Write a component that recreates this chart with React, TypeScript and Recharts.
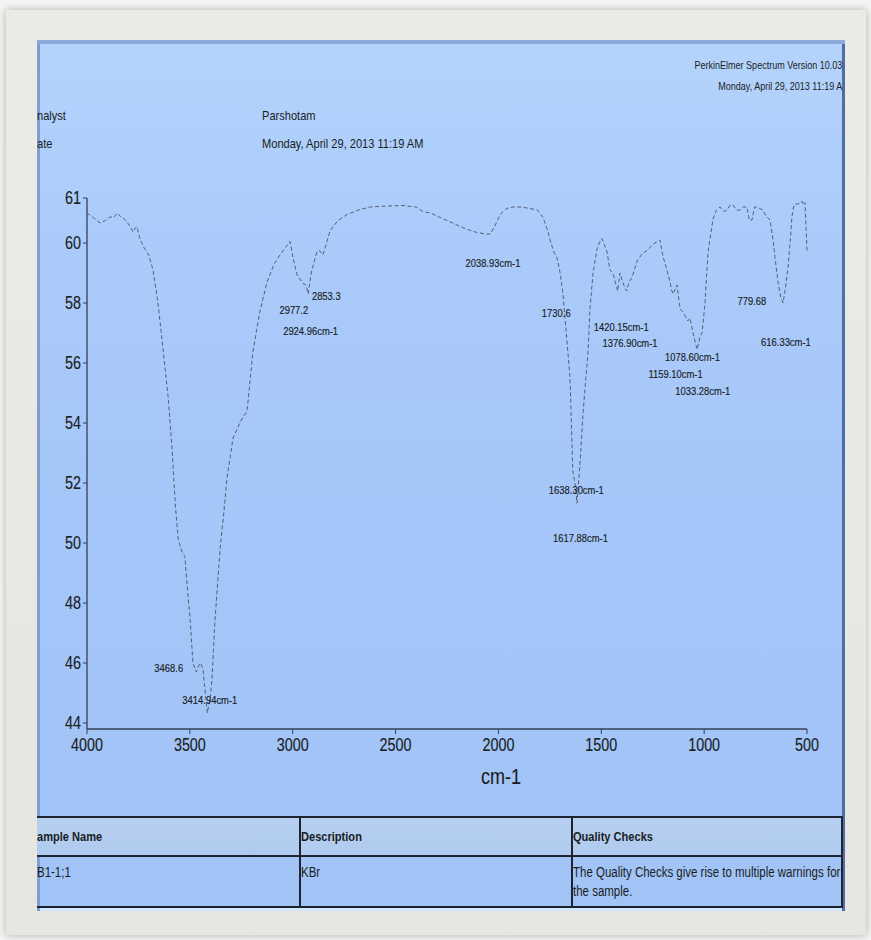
import React from 'react';
import { ComposedChart, Line, Scatter, XAxis, YAxis } from 'recharts';

// FTIR transmittance spectrum (KBr pellet), wavenumber in cm-1 and %T
const wavenumber = [
  4000, 3970, 3937, 3910, 3888, 3870, 3854, 3840, 3825, 3806, 3790, 3776, 3765, 3757, 3745, 3728,
  3700, 3679, 3655, 3631, 3606, 3587, 3570, 3556, 3538, 3524, 3510, 3499, 3485, 3468.6, 3458, 3448,
  3436, 3425, 3414.94, 3400, 3392, 3378, 3353, 3335, 3319, 3290, 3250, 3222, 3193, 3160, 3125, 3090,
  3062, 3035, 3013, 2995, 2977.2, 2965, 2950, 2935, 2924.96, 2910, 2895, 2882, 2870, 2853.3, 2840, 2819,
  2780, 2736, 2680, 2624, 2550, 2464, 2400, 2367, 2330, 2299, 2250, 2201, 2150, 2104, 2060, 2038.93,
  2015, 1992, 1960, 1929, 1890, 1847, 1810, 1783, 1760, 1749, 1730.6, 1715, 1700, 1686, 1670, 1652,
  1638.3, 1628, 1617.88, 1600, 1589, 1575, 1565, 1555, 1540, 1521, 1510, 1497, 1485, 1472, 1458, 1443,
  1432, 1420.15, 1409, 1396, 1385, 1376.9, 1365, 1351, 1326, 1300, 1278, 1250, 1229, 1215, 1200, 1181,
  1166, 1159.1, 1151, 1132, 1117, 1103, 1083, 1078.6, 1069, 1054, 1040, 1033.28, 1020, 1010, 996, 981,
  957, 940, 923, 905, 889, 875, 860, 843, 826, 810, 792, 779.68, 767, 755, 743, 730,
  714, 700, 680, 665, 650, 641, 628, 616.33, 605, 592, 580, 573, 565, 558, 545, 534,
  525, 519, 510, 503, 500,
];

const transmittance = [
  61.0, 60.85, 60.67, 60.75, 60.87, 60.85, 61.0, 60.9, 60.85, 60.7, 60.55, 60.37, 60.5, 60.55, 60.2, 59.9,
  59.6, 59.1, 58.0, 56.5, 54.9, 53.2, 51.2, 50.1, 49.7, 49.55, 48.3, 47.5, 46.0, 45.7, 45.9, 46.0,
  45.8, 45.0, 44.33, 44.9, 45.5, 47.4, 49.8, 51.0, 52.2, 53.5, 54.1, 54.4, 56.4, 57.7, 58.7, 59.3,
  59.6, 59.85, 60.05, 59.4, 58.9, 58.8, 58.65, 58.6, 58.3, 59.0, 59.4, 59.7, 59.75, 59.6, 59.9, 60.4,
  60.75, 60.95, 61.1, 61.2, 61.23, 61.25, 61.2, 61.05, 61.0, 60.9, 60.75, 60.6, 60.45, 60.35, 60.3, 60.3,
  60.6, 60.95, 61.15, 61.2, 61.2, 61.15, 61.1, 60.85, 60.4, 60.1, 59.7, 59.5, 59.0, 58.3, 57.0, 55.5,
  52.4, 52.0, 51.33, 53.0, 54.3, 55.5, 56.3, 57.8, 59.0, 59.8, 60.0, 60.15, 59.95, 59.7, 59.1, 59.0,
  58.7, 58.4, 59.0, 58.7, 58.5, 58.4, 58.7, 58.85, 59.4, 59.65, 59.75, 59.95, 60.05, 60.1, 59.55, 59.1,
  58.7, 58.45, 58.3, 58.6, 57.8, 57.7, 57.45, 57.4, 57.5, 57.0, 56.6, 56.45, 56.9, 57.0, 58.0, 59.7,
  60.8, 61.1, 61.2, 61.05, 61.1, 61.25, 61.27, 61.1, 61.1, 61.2, 61.2, 60.75, 60.77, 61.2, 61.2, 61.15,
  61.1, 60.9, 60.77, 60.1, 59.2, 58.7, 58.2, 58.0, 58.5, 59.2, 60.2, 60.9, 61.2, 61.3, 61.3, 61.33,
  61.4, 61.27, 61.35, 60.3, 59.7,
];

// Picked peaks; the ones flagged with a unit print "cm-1" after two decimals
const peakWavenumber = [
  3468.6, 3414.94, 2977.2, 2924.96, 2853.3, 2038.93, 1730.6, 1638.3,
  1617.88, 1420.15, 1376.9, 1159.1, 1078.6, 1033.28, 779.68, 616.33,
];
const peakWithUnit = [
  false, true, false, true, false, true, false, true,
  true, true, true, true, true, true, false, true,
];

const xTicks = [4000, 3500, 3000, 2500, 2000, 1500, 1000, 500];
const yTicks = [44, 46, 48, 50, 52, 54, 56, 58, 60, 61.5];

const headerLeftLabels = ['nalyst', 'ate'];
const headerLeftValues = ['Parshotam', 'Monday, April 29, 2013 11:19 AM'];
const headerRight = ['PerkinElmer Spectrum Version 10.03', 'Monday, April 29, 2013 11:19 A'];

const tableHeads = ['ample Name', 'Description', 'Quality Checks'];
const tableRow = [['B1-1;1'], ['KBr'], ['The Quality Checks give rise to multiple warnings for', 'the sample.']];

const spectrum = wavenumber.map((wn, i) => ({ wn, t: transmittance[i] }));
const peaks = peakWavenumber.map((wn, i) => {
  const t = transmittance[wavenumber.indexOf(wn)];
  return { wn, t, label: peakWithUnit[i] ? `${wn.toFixed(2)}cm-1` : String(wn) };
});

// where each peak annotation sits relative to its point (dx to text start, dy to text middle)
const labelNudge: Record<string, [number, number]> = {
  '3468.6': [-42, -4],
  '3414.94cm-1': [-25, -13],
  '2977.2': [-18, 34],
  '2924.96cm-1': [-25, 37],
  '2853.3': [-11, 41],
  '2038.93cm-1': [-25, 29],
  '1730.6': [-12, 61],
  '1638.30cm-1': [-24, 19],
  '1617.88cm-1': [-24, 35],
  '1420.15cm-1': [-24, 36],
  '1376.90cm-1': [-24, 52],
  '1159.10cm-1': [-23, 84],
  '1078.60cm-1': [-23, 36],
  '1033.28cm-1': [-22, 41],
  '779.68': [-12, 80],
  '616.33cm-1': [-22, 39],
};

// Arial-metric face, squeezed horizontally to a narrow cut
const FACE = "'Liberation Sans', Arial, sans-serif";
const SQUEEZE = 0.82;
const INK = '#1a1d24';
const AXIS = '#34405a';

type SvgTextProps = {
  x: number;
  y: number;
  size: number;
  anchor?: 'start' | 'middle' | 'end';
  children: React.ReactNode;
};

const NarrowSvgText = ({ x, y, size, anchor = 'start', children }: SvgTextProps) => (
  <text
    transform={`translate(${x},${y}) scale(${SQUEEZE},1)`}
    textAnchor={anchor}
    dominantBaseline="central"
    fontFamily={FACE}
    fontSize={size}
    fill={INK}
    stroke={INK}
    strokeWidth={0.15}
  >
    {children}
  </text>
);

const PeakLabel = (props: any) => {
  const { cx, cy, payload } = props;
  const [dx, dy] = labelNudge[payload.label] || [0, 0];
  return (
    <NarrowSvgText x={cx + dx} y={cy + dy} size={11.5}>
      {payload.label}
    </NarrowSvgText>
  );
};

const XTick = (props: any) => (
  <NarrowSvgText x={props.x} y={props.y + 9} size={17.5} anchor="middle">
    {props.payload.value}
  </NarrowSvgText>
);

const YTick = (props: any) => (
  <NarrowSvgText x={props.x} y={props.y} size={17.5} anchor="end">
    {Math.floor(props.payload.value)}
  </NarrowSvgText>
);

const AxisTitle = (props: any) => {
  const vb = props.viewBox;
  return (
    <NarrowSvgText x={vb.x + vb.width / 2 + 54} y={vb.y + 47} size={22} anchor="middle">
      cm-1
    </NarrowSvgText>
  );
};

type NarrowProps = {
  left?: number;
  right?: number;
  top: number;
  size: number;
  bold?: boolean;
  lineHeight?: number;
  children: React.ReactNode;
};

const Narrow = ({ left, right, top, size, bold, lineHeight = 18, children }: NarrowProps) => (
  <div
    style={{
      position: 'absolute',
      left,
      right,
      top,
      fontFamily: FACE,
      fontSize: size,
      fontWeight: bold ? 700 : 400,
      lineHeight: `${lineHeight}px`,
      color: INK,
      whiteSpace: 'nowrap',
      transform: `scaleX(${SQUEEZE})`,
      transformOrigin: right !== undefined ? 'right center' : 'left center',
    }}
  >
    {children}
  </div>
);

export default function App() {
  const ink = '#1e2330';
  const colLeft = [0, 262, 534];
  const headTop = 777;
  const headBottom = 816;
  const tableBottom = 867;
  return (
    <div
      style={{
        position: 'absolute',
        left: 0,
        top: 0,
        width: 871,
        height: 940,
        background: '#f4f4f3',
        overflow: 'hidden',
      }}
    >
      {/* frame */}
      <div
        style={{
          position: 'absolute',
          left: 6,
          top: 10,
          width: 860,
          height: 925,
          background: 'linear-gradient(180deg, #ecebe6 0%, #e7e5df 100%)',
          boxShadow: '0 0 8px rgba(0,0,0,0.28)',
        }}
      />
      {/* printed sheet */}
      <div
        style={{
          position: 'absolute',
          left: 37,
          top: 40,
          width: 808,
          height: 871,
          overflow: 'hidden',
          background: 'linear-gradient(180deg, #b4d4fc 0%, #abcbfa 22%, #a4c6f8 55%, #a1c3f5 100%)',
          boxShadow:
            'inset 0 4px 0 #8cabdd, inset 3px 0 0 #7e9ed2, inset -3px 0 0 #4d6ea6, inset 0 -4px 0 #d3e8fb',
        }}
      >
        <Narrow right={3} top={18} size={11} lineHeight={14}>
          {headerRight[0]}
        </Narrow>
        <Narrow right={3} top={39} size={11} lineHeight={14}>
          {headerRight[1]}
        </Narrow>

        <Narrow left={0} top={67} size={13.5}>
          {headerLeftLabels[0]}
        </Narrow>
        <Narrow left={0} top={95} size={13.5}>
          {headerLeftLabels[1]}
        </Narrow>
        <Narrow left={225} top={67} size={13.5}>
          {headerLeftValues[0]}
        </Narrow>
        <Narrow left={225} top={95} size={13.5}>
          {headerLeftValues[1]}
        </Narrow>

        <ComposedChart
          width={808}
          height={760}
          margin={{ top: 158, right: 38, bottom: 11, left: 10 }}
          style={{ position: 'absolute', left: 0, top: 0 }}
        >
          <XAxis
            dataKey="wn"
            type="number"
            domain={[500, 4000]}
            reversed
            ticks={xTicks}
            height={60}
            tickSize={5}
            tickMargin={2}
            axisLine={{ stroke: AXIS, strokeWidth: 1.3 }}
            tickLine={{ stroke: AXIS }}
            tick={XTick}
            label={<AxisTitle />}
          />
          <YAxis
            type="number"
            domain={[43.8, 61.5]}
            ticks={yTicks}
            width={40}
            tickSize={4}
            tickMargin={2}
            axisLine={{ stroke: AXIS, strokeWidth: 1.3 }}
            tickLine={{ stroke: AXIS }}
            tick={YTick}
          />
          <Line
            data={spectrum}
            dataKey="t"
            type="linear"
            stroke="#566070"
            strokeWidth={1}
            strokeDasharray="4 2.5"
            dot={false}
            isAnimationActive={false}
          />
          <Scatter data={peaks} dataKey="t" shape={PeakLabel} isAnimationActive={false} />
        </ComposedChart>

        {/* sample table */}
        <div
          style={{
            position: 'absolute',
            left: 0,
            top: headTop,
            width: 806,
            height: headBottom - headTop,
            background: 'linear-gradient(180deg, #b7d0f1 0%, #b0cbef 100%)',
          }}
        />
        {[headTop, headBottom, tableBottom].map((y) => (
          <div
            key={y}
            style={{ position: 'absolute', left: 0, top: y - 1, width: 806, height: 2, background: ink }}
          />
        ))}
        {[262, 534, 804].map((x) => (
          <div
            key={x}
            style={{
              position: 'absolute',
              left: x,
              top: headTop,
              width: x === 804 ? 2 : 1.5,
              height: tableBottom - headTop,
              background: ink,
            }}
          />
        ))}
        {tableHeads.map((h, i) => (
          <Narrow key={h} left={colLeft[i] + (i === 0 ? 0 : 2)} top={headTop + 11} size={13.5} bold>
            {h}
          </Narrow>
        ))}
        {tableRow.map((lines, i) =>
          lines.map((line, k) => (
            <Narrow
              key={`${i}-${k}`}
              left={colLeft[i] + (i === 0 ? 0 : 2)}
              top={headBottom + 7 + k * 19}
              size={14}
              lineHeight={19}
            >
              {line}
            </Narrow>
          ))
        )}
      </div>
    </div>
  );
}
